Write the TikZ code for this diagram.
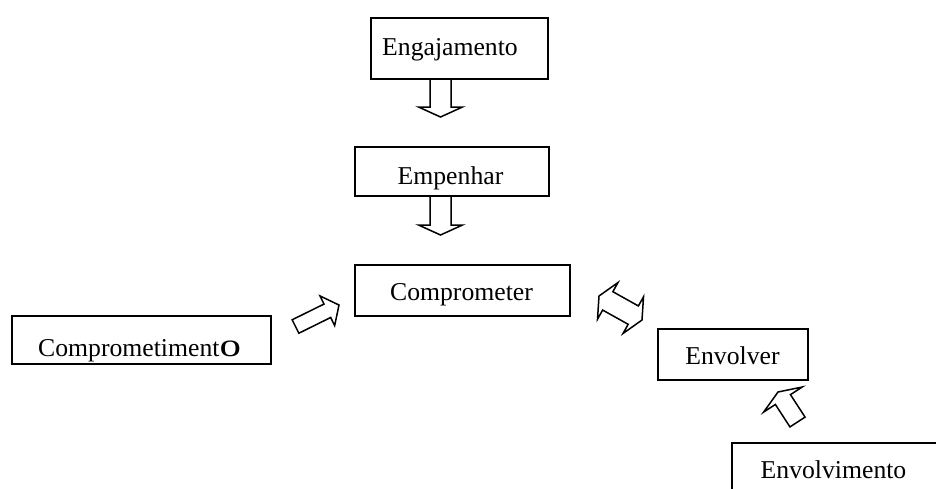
\documentclass[tikz,border=0pt]{standalone}
\usepackage{fontspec}
\usepackage{graphicx}
\setmainfont{Liberation Serif}
\usetikzlibrary{calc}

% Outlined block arrow from tail #1 to tip #2:
% #3 half shaft width, #4 half head width, #5 head length
\newcommand\blockarrow[5]{%
  \coordinate (headbase) at ($(#2)!#5!(#1)$);
  \draw[blk] ($(#1)!#3!90:(#2)$) -- ($(headbase)!#3!90:(#2)$)
    -- ($(headbase)!#4!90:(#2)$) -- (#2)
    -- ($(headbase)!#4!-90:(#2)$) -- ($(headbase)!#3!-90:(#2)$)
    -- ($(#1)!#3!-90:(#2)$) -- cycle;}

% Outlined double block arrow between tips #1 and #2
\newcommand\blockdarrow[5]{%
  \coordinate (baseA) at ($(#1)!#5!(#2)$);
  \coordinate (baseB) at ($(#2)!#5!(#1)$);
  \draw[blk] (#1) -- ($(baseA)!#4!90:(#2)$) -- ($(baseA)!#3!90:(#2)$)
    -- ($(baseB)!#3!-90:(#1)$) -- ($(baseB)!#4!-90:(#1)$) -- (#2)
    -- ($(baseB)!#4!90:(#1)$) -- ($(baseB)!#3!90:(#1)$)
    -- ($(baseA)!#3!-90:(#2)$) -- ($(baseA)!#4!-90:(#2)$) -- cycle;}

\begin{document}
\begin{tikzpicture}[x=1pt,y=-1pt,
  box/.style={draw, line width=1.6pt, inner sep=0pt},
  word/.style={font=\fontsize{25.7}{30}\selectfont, inner sep=0pt, anchor=base},
  blk/.style={draw, line width=1.5pt, fill=white, line join=miter}]
\useasboundingbox (0,0) rectangle (936,488);
\clip (0,0) rectangle (936,488);

% boxes
\node[box, minimum width=177pt, minimum height=61pt] (eng) at (459.5,48.5) {};
\node[box, minimum width=194pt, minimum height=49pt] (emp) at (452,171.5) {};
\node[box, minimum width=215pt, minimum height=51pt] (comp) at (462.5,290.5) {};
\node[box, minimum width=259pt, minimum height=48pt] (compm) at (141.5,340) {};
\node[box, minimum width=150pt, minimum height=51pt] (env) at (733,354.5) {};
\node[box, minimum width=228pt, minimum height=67pt] (envm) at (846,476.5) {};

% labels
\node[word] (engt) at (450,55) {Engajamento};
\node[word] (empt) at (450.5,184) {Empenhar};
\node[word] (compt) at (461.5,300) {Comprometer};
\node[word, anchor=base west] (compmt) at (38,356)
  {Comprometiment\scalebox{1.3}[1]{\fontsize{33}{38}\selectfont o}};
\node[word] (envt) at (732.5,364) {Envolver};
\node[word] (envmt) at (833.5,478) {Envolvimento};

% arrow ends
\coordinate (a1s) at (440.5,79);   \coordinate (a1e) at (440.5,117);
\coordinate (a2s) at (440.5,196);  \coordinate (a2e) at (440.5,235);
\coordinate (a3s) at (295.5,326.5); \coordinate (a3e) at (339,305);
\coordinate (a4s) at (599,296);    \coordinate (a4e) at (642,320);
\coordinate (a5s) at (797.5,422);  \coordinate (a5e) at (778,392);

% arrows
\blockarrow{a1s}{a1e}{10.5pt}{22pt}{10pt}
\blockarrow{a2s}{a2e}{10.5pt}{22pt}{10pt}
\blockarrow{a3s}{a3e}{7.5pt}{16.5pt}{13pt}
\blockdarrow{a4s}{a4e}{10.5pt}{21pt}{10pt}
\blockarrow{a5s}{a5e}{9pt}{23pt}{9pt}
\end{tikzpicture}
\end{document}
